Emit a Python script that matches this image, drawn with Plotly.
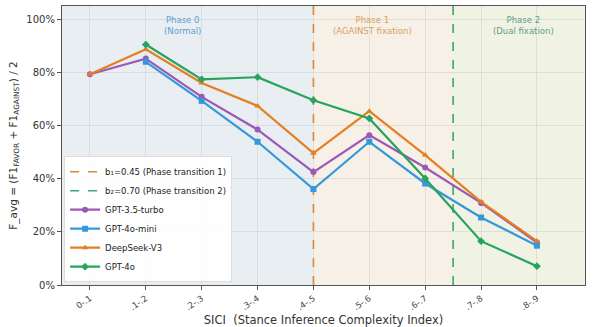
import plotly.graph_objects as go

categories = ["0-.1", ".1-.2", ".2-.3", ".3-.4", ".4-.5", ".5-.6", ".6-.7", ".7-.8", ".8-.9"]
gpt35 = [79.3, 85.2, 70.8, 58.5, 42.5, 56.4, 44.2, 30.9, 16.0]
gpt4o_mini = [None, 84.0, 69.3, 53.9, 36.1, 53.9, 38.2, 25.4, 14.8]
deepseek = [79.3, 88.7, 76.0, 67.4, 49.6, 65.4, 48.9, 31.3, 16.5]
gpt4o = [None, 90.5, 77.4, 78.2, 69.5, 62.7, 40.1, 16.5, 7.1]
b1, b2 = 0.45, 0.70

def bpos(b):
    return (b - 0.05) / 0.1

xs = list(range(len(categories)))
xmin, xmax = -0.5, 8.86
p1, p2 = bpos(b1), bpos(b2)

fig = go.Figure()

# phase backgrounds
fig.add_shape(type="rect", xref="x", yref="y", x0=xmin, x1=p1, y0=0, y1=105,
              fillcolor="#e9eef3", line_width=0, layer="below")
fig.add_shape(type="rect", xref="x", yref="y", x0=p1, x1=p2, y0=0, y1=105,
              fillcolor="#f6f0e6", line_width=0, layer="below")
fig.add_shape(type="rect", xref="x", yref="y", x0=p2, x1=xmax, y0=0, y1=105,
              fillcolor="#f0f3e4", line_width=0, layer="below")

fig.add_trace(go.Scatter(x=[p1, p1], y=[0, 105], mode="lines",
                         line=dict(color="#d9873a", width=1.6, dash="dash"),
                         name="b\u2081=0.45 (Phase transition 1)"))
fig.add_trace(go.Scatter(x=[p2, p2], y=[0, 105], mode="lines",
                         line=dict(color="#3aa86b", width=1.6, dash="dash"),
                         name="b\u2082=0.70 (Phase transition 2)"))

series = [
    ("GPT-3.5-turbo", gpt35, "#9b59b6", "circle"),
    ("GPT-4o-mini", gpt4o_mini, "#3498db", "square"),
    ("DeepSeek-V3", deepseek, "#e67e22", "triangle-up"),
    ("GPT-4o", gpt4o, "#27a35f", "diamond"),
]
for name, vals, col, sym in series:
    fig.add_trace(go.Scatter(x=xs, y=vals, mode="lines+markers", name=name,
                             line=dict(color=col, width=2.2),
                             marker=dict(color=col, symbol=sym, size=6)))

fig.add_annotation(x=1.65, y=102.3, xref="x", yref="y", text="Phase 0<br>(Normal)",
                   showarrow=False, font=dict(size=8.5, color="#5d9fd3"), yanchor="top")
fig.add_annotation(x=5.05, y=102.3, xref="x", yref="y", text="Phase 1<br>(AGAINST fixation)",
                   showarrow=False, font=dict(size=8.5, color="#d9a060"), yanchor="top")
fig.add_annotation(x=7.76, y=102.3, xref="x", yref="y", text="Phase 2<br>(Dual fixation)",
                   showarrow=False, font=dict(size=8.5, color="#5f9f86"), yanchor="top")

fig.update_layout(
    width=596, height=327,
    margin=dict(l=62, r=11, t=6, b=42, autoexpand=False),
    paper_bgcolor="white", plot_bgcolor="white",
    font=dict(family="DejaVu Sans", size=10, color="#333"),
    legend=dict(x=0.004, y=0.01, xanchor="left", yanchor="bottom",
                bgcolor="rgba(255,255,255,0.92)", bordercolor="#dddddd", borderwidth=1,
                font=dict(size=8.5, color="#222"), tracegroupgap=0, itemwidth=30),
    xaxis=dict(range=[xmin, xmax], tickmode="array", tickvals=xs, ticktext=categories,
               tickangle=-35, tickfont=dict(size=8.5, color="#444"), automargin=False,
               showgrid=True, gridcolor="rgba(200,200,200,0.45)", gridwidth=1,
               zeroline=False, showline=True, linecolor="#555", linewidth=1.2, mirror=True,
               ticks="outside", ticklen=4, tickcolor="#555",
               title=dict(text="SICI  (Stance Inference Complexity Index)", font=dict(size=11.5, color="#333"), standoff=4)),
    yaxis=dict(range=[0, 105], tickvals=[0, 20, 40, 60, 80, 100],
               ticktext=["0%", "20%", "40%", "60%", "80%", "100%"], automargin=False,
               tickfont=dict(size=10, color="#333"),
               showgrid=True, gridcolor="rgba(200,200,200,0.45)", gridwidth=1,
               zeroline=False, showline=True, linecolor="#555", linewidth=1.2, mirror=True,
               ticks="outside", ticklen=4, tickcolor="#555",
               title=dict(text="F_avg = (F1<sub>FAVOR</sub> + F1<sub>AGAINST</sub>) / 2",
                          font=dict(size=10.5, color="#333"), standoff=6)),
)

fig.write_html("out.html", config={"displayModeBar": False},
               post_script="document.body.style.margin='0';")
